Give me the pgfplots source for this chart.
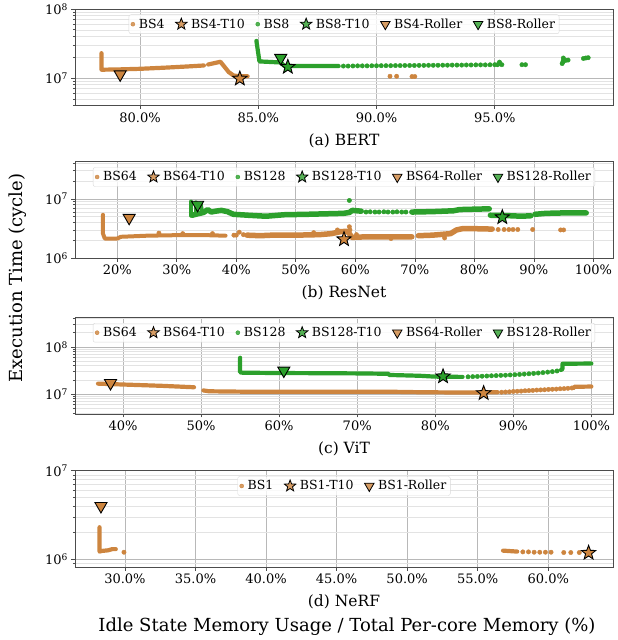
\documentclass[border=0pt]{standalone}
\usepackage{fontspec}
\setmainfont{DejaVu Serif}
\usepackage{pgfplots}
\pgfplotsset{compat=1.18}
\definecolor{cor}{RGB}{205,133,63}
\definecolor{cgr}{RGB}{44,160,44}
\pgfdeclareplotmark{fstar}{%
  \pgfpathmoveto{\pgfpointpolar{90}{1\pgfplotmarksize}}%
  \pgfpathlineto{\pgfpointpolar{126}{0.42\pgfplotmarksize}}%
  \pgfpathlineto{\pgfpointpolar{162}{1\pgfplotmarksize}}%
  \pgfpathlineto{\pgfpointpolar{198}{0.42\pgfplotmarksize}}%
  \pgfpathlineto{\pgfpointpolar{234}{1\pgfplotmarksize}}%
  \pgfpathlineto{\pgfpointpolar{270}{0.42\pgfplotmarksize}}%
  \pgfpathlineto{\pgfpointpolar{306}{1\pgfplotmarksize}}%
  \pgfpathlineto{\pgfpointpolar{342}{0.42\pgfplotmarksize}}%
  \pgfpathlineto{\pgfpointpolar{18}{1\pgfplotmarksize}}%
  \pgfpathlineto{\pgfpointpolar{54}{0.42\pgfplotmarksize}}%
  \pgfpathclose\pgfusepathqfillstroke}
\pgfplotsset{
  mypanel/.style={
    width=538pt, height=96.5pt, scale only axis,
    axis line style={black!70, line width=0.7pt},
    xmajorgrids, ymajorgrids, yminorgrids,
    major grid style={black!28, line width=0.6pt},
    minor grid style={black!11, line width=0.5pt},
    tick align=outside, tick pos=left,
    major tick length=3.5pt, minor tick length=2pt,
    tick style={black!70, line width=0.6pt},
    ticklabel style={font=\fontsize{13}{15}\selectfont},
    xlabel style={font=\fontsize{15.5}{18}\selectfont, yshift=-4pt},
    legend cell align=left,
    legend style={at={(0.5,0.943)}, anchor=north, draw=black!15, rounded corners=2pt,
      fill=white, fill opacity=0.8, text opacity=1, inner sep=2pt,
      font=\fontsize{12.5}{14}\selectfont,
      /tikz/every odd column/.append style={column sep=2pt},
      /tikz/every even column/.append style={column sep=9pt}},
  },
  mydot/.style={only marks, mark=*, mark size=2.2pt, forget plot},
  myband/.style={no marks, line width=#1, line cap=round, line join=round, forget plot},
  myband/.default=4.2pt,
  mystar/.style={only marks, mark=fstar, mark size=7.5pt, mark options={fill=#1, draw=black, line width=0.9pt}, forget plot},
  mytri/.style={only marks, mark=triangle*, mark size=7pt, mark options={rotate=180, fill=#1, draw=black, line width=0.9pt}, forget plot},
  lgdot/.style={only marks, mark=*, mark size=2pt, #1},
  lgstar/.style={only marks, mark=fstar, mark size=6pt, mark options={fill=#1, draw=black, line width=0.8pt}},
  lgtri/.style={only marks, mark=triangle*, mark size=5.5pt, mark options={rotate=180, fill=#1, draw=black, line width=0.8pt}},
}
\begin{document}
\begin{tikzpicture}
% ---------------- (a) BERT ----------------
\begin{axis}[mypanel, ymode=log, at={(0pt,-105.5pt)}, anchor=south west,
  xmin=77.25, xmax=100, ymin=4e6, ymax=1e8,
  xtick={80,85,90,95}, xticklabels={80.0\%,85.0\%,90.0\%,95.0\%},
  ytick={1e7,1e8}, yticklabels={10\textsuperscript{7},10\textsuperscript{8}},
  minor ytick={4e6,5e6,6e6,7e6,8e6,9e6,2e7,3e7,4e7,5e7,6e7,7e7,8e7,9e7},
  xlabel={(a) BERT}, legend columns=6]
\addlegendimage{lgdot=cor}\addlegendentry{BS4}
\addlegendimage{lgstar=cor}\addlegendentry{BS4-T10}
\addlegendimage{lgdot=cgr}\addlegendentry{BS8}
\addlegendimage{lgstar=cgr}\addlegendentry{BS8-T10}
\addlegendimage{lgtri=cor}\addlegendentry{BS4-Roller}
\addlegendimage{lgtri=cgr}\addlegendentry{BS8-Roller}
\addplot[myband, cor] coordinates {(78.37,2.29e7) (78.37,1.32e7) (79,1.33e7) (80,1.36e7) (81,1.41e7) (82,1.47e7) (82.7,1.52e7)};
\addplot[myband, cor] coordinates {(82.88,1.57e7) (83.4,1.72e7) (83.75,1.22e7) (83.95,1.09e7) (84.2,1.06e7) (84.55,1.06e7)};
\addplot[mydot, cor] coordinates {(90.57,1.06e7) (90.85,1.06e7) (91.5,1.05e7) (91.62,1.05e7)};
\addplot[myband, cgr] coordinates {(84.92,3.45e7) (85.05,1.74e7) (85.95,1.68e7) (86.1,1.5e7) (88.4,1.49e7)};
\addplot[mydot, cgr] coordinates {(88.6,1.49e7) (88.8,1.49e7) (89.0,1.495e7) (89.2,1.5e7) (89.4,1.5e7) (89.6,1.5e7) (89.8,1.505e7) (90.0,1.505e7) (90.2,1.51e7) (90.4,1.51e7) (90.6,1.51e7) (90.8,1.515e7) (91.0,1.515e7) (91.2,1.52e7) (91.4,1.52e7) (91.6,1.52e7) (91.8,1.525e7) (92.0,1.525e7) (92.2,1.53e7) (92.4,1.53e7) (92.6,1.53e7) (92.8,1.535e7) (93.0,1.535e7) (93.2,1.54e7) (93.4,1.54e7) (93.6,1.54e7) (93.8,1.545e7) (94.0,1.545e7) (94.2,1.55e7) (94.4,1.55e7) (94.6,1.55e7) (94.8,1.555e7) (95.0,1.56e7) (95.12,1.56e7) (95.2,1.62e7) (95.2,1.7e7) (95.3,1.56e7) (96.15,1.56e7) (96.3,1.56e7) (97.85,1.62e7) (97.88,1.7e7) (97.9,1.8e7) (97.9,1.95e7) (98.0,1.8e7) (98.1,1.82e7) (98.75,1.92e7) (98.85,1.95e7) (98.95,1.97e7)};
\addplot[mystar=cor] coordinates {(84.22,0.98e7)};
\addplot[mystar=cgr] coordinates {(86.25,1.45e7)};
\addplot[mytri=cor] coordinates {(79.16,1.13e7)};
\addplot[mytri=cgr] coordinates {(85.95,1.96e7)};
\end{axis}
% ---------------- (b) ResNet ----------------
\begin{axis}[mypanel, ymode=log, at={(0pt,-258.3pt)}, anchor=south west,
  xmin=12.9, xmax=103.3, ymin=1e6, ymax=4.2e7,
  xtick={20,30,40,50,60,70,80,90,100}, xticklabels={20\%,30\%,40\%,50\%,60\%,70\%,80\%,90\%,100\%},
  ytick={1e6,1e7}, yticklabels={10\textsuperscript{6},10\textsuperscript{7}},
  minor ytick={2e6,3e6,4e6,5e6,6e6,7e6,8e6,9e6,2e7,3e7,4e7},
  xlabel={(b) ResNet}, legend columns=6]
\addlegendimage{lgdot=cor}\addlegendentry{BS64}
\addlegendimage{lgstar=cor}\addlegendentry{BS64-T10}
\addlegendimage{lgdot=cgr}\addlegendentry{BS128}
\addlegendimage{lgstar=cgr}\addlegendentry{BS128-T10}
\addlegendimage{lgtri=cor}\addlegendentry{BS64-Roller}
\addlegendimage{lgtri=cgr}\addlegendentry{BS128-Roller}
\addplot[myband=4pt, cor] coordinates {(17.6,5.4e6) (17.6,2.6e6) (17.9,2.15e6) (20.0,2.15e6) (20.6,2.3e6) (25,2.4e6) (30,2.45e6) (35,2.45e6) (38.2,2.4e6)};
\addplot[myband=5.5pt, cor] coordinates {(41.8,2.45e6) (44,2.4e6) (46,2.45e6) (50,2.45e6) (54,2.5e6) (56,2.6e6) (57.5,2.8e6) (58.6,2.85e6) (59.0,2.6e6) (59.4,2.25e6) (62,2.3e6) (66,2.3e6) (69.5,2.3e6)};
\addplot[myband=5.5pt, cor] coordinates {(70.6,2.4e6) (73,2.45e6) (76,2.6e6) (77,3.0e6) (78,3.15e6) (80,3.15e6) (83,3.1e6)};
\addplot[mydot, cor] coordinates {(39.6,2.45e6) (40.0,2.45e6) (40.5,2.75e6) (41.2,2.5e6) (27,2.65e6) (31,2.6e6) (36,2.6e6) (53,2.7e6) (57,3.0e6) (59,3.4e6) (59.1,3.0e6) (60.2,2.5e6) (66,2.15e6) (75,2.2e6) (84,3.05e6) (85,3.05e6) (85.8,3.05e6) (86.5,3.05e6) (87.3,3.05e6) (89.8,3.05e6) (94.5,3.0e6) (95,3.0e6)};
\addplot[myband=4pt, cgr] coordinates {(32.4,9e6) (32.4,5.2e6)};
\addplot[myband=4pt, cgr] coordinates {(33.2,8.7e6) (33.2,6e6)};
\addplot[myband=4pt, cgr] coordinates {(34.0,8.4e6) (34.2,6.4e6)};
\addplot[myband=5.5pt, cgr] coordinates {(32.6,5.3e6) (33.5,5.6e6) (34.5,5.9e6) (35.2,6.6e6) (35.8,6.0e6) (36.5,6.2e6) (37.5,6.4e6) (38.5,6.1e6) (39.5,5.5e6) (42,5.3e6) (45,5.1e6) (48,5.4e6) (52,5.5e6) (55,5.6e6) (58,5.7e6) (59,5.9e6) (59.5,6.4e6) (61,6.2e6)};
\addplot[mydot, cgr] coordinates {(59,9.4e6) (61.8,6.0e6) (62.5,6.05e6) (63.3,6.0e6) (64.0,6.0e6) (64.8,6.05e6) (65.5,6.0e6) (66.3,6.0e6) (67.0,6.05e6) (67.8,6.0e6) (68.5,6.0e6)};
\addplot[myband=5.5pt, cgr] coordinates {(69.5,6.0e6) (73,6.1e6) (76.5,6.3e6) (77.5,6.6e6) (82.5,6.8e6)};
\addplot[myband=5.5pt, cgr] coordinates {(82.7,5.3e6) (86,5.2e6) (88,5.1e6) (89.5,5.2e6)};
\addplot[myband=5.5pt, cgr] coordinates {(90.2,5.5e6) (92,5.7e6) (95,5.8e6) (98.8,5.8e6)};
\addplot[mystar=cor] coordinates {(58.1,2.09e6)};
\addplot[mystar=cgr] coordinates {(84.7,4.9e6)};
\addplot[mytri=cor] coordinates {(22.0,4.8e6)};
\addplot[mytri=cgr] coordinates {(33.5,7.95e6)};
\end{axis}
% ---------------- (c) ViT ----------------
\begin{axis}[mypanel, ymode=log, at={(0pt,-414pt)}, anchor=south west,
  xmin=33.85, xmax=102.77, ymin=3.8e6, ymax=4.2e8,
  xtick={40,50,60,70,80,90,100}, xticklabels={40\%,50\%,60\%,70\%,80\%,90\%,100\%},
  ytick={1e7,1e8}, yticklabels={10\textsuperscript{7},10\textsuperscript{8}},
  minor ytick={4e6,5e6,6e6,7e6,8e6,9e6,2e7,3e7,4e7,5e7,6e7,7e7,8e7,9e7,2e8,3e8,4e8},
  xlabel={(c) ViT}, legend columns=6]
\addlegendimage{lgdot=cor}\addlegendentry{BS64}
\addlegendimage{lgstar=cor}\addlegendentry{BS64-T10}
\addlegendimage{lgdot=cgr}\addlegendentry{BS128}
\addlegendimage{lgstar=cgr}\addlegendentry{BS128-T10}
\addlegendimage{lgtri=cor}\addlegendentry{BS64-Roller}
\addlegendimage{lgtri=cgr}\addlegendentry{BS128-Roller}
\addplot[myband, cor] coordinates {(36.8,1.67e7) (40,1.6e7) (45,1.5e7) (49.1,1.4e7)};
\addplot[myband, cor] coordinates {(50.3,1.2e7) (51,1.15e7) (55,1.13e7) (65,1.12e7) (75,1.12e7) (78,1.1e7) (84,1.08e7) (88,1.1e7)};
\addplot[mydot, cor] coordinates {(88.5,1.1e7) (89,1.11e7) (89.5,1.12e7) (90,1.14e7) (90.5,1.15e7) (91,1.16e7) (91.5,1.18e7) (92,1.19e7) (92.5,1.2e7) (93,1.22e7) (93.5,1.23e7) (94,1.24e7) (94.5,1.26e7) (95,1.27e7) (95.5,1.28e7) (96,1.3e7) (96.5,1.31e7) (97,1.33e7) (97.5,1.35e7)};
\addplot[myband, cor] coordinates {(97.75,1.36e7) (97.8,1.43e7) (100,1.45e7)};
\addplot[myband, cgr] coordinates {(55,5.9e7) (55,2.9e7) (55.3,2.85e7) (60,2.8e7) (65,2.78e7) (70,2.75e7) (74,2.7e7) (74.1,2.55e7) (78,2.45e7) (80,2.35e7) (83.5,2.32e7)};
\addplot[mydot, cgr] coordinates {(84.2,2.33e7) (84.8,2.35e7) (85.4,2.37e7) (86.0,2.4e7) (86.6,2.42e7) (87.2,2.45e7) (87.8,2.47e7) (88.4,2.5e7) (89.0,2.52e7) (89.6,2.55e7) (90.2,2.58e7) (90.8,2.62e7) (91.4,2.66e7) (92.0,2.7e7) (92.6,2.75e7) (93.2,2.8e7) (93.8,2.86e7) (94.4,2.93e7) (95.0,3.0e7) (95.6,3.1e7)};
\addplot[myband, cgr] coordinates {(96.1,3.25e7) (96.3,3.4e7) (96.3,4.4e7) (100,4.45e7)};
\addplot[mystar=cor] coordinates {(86.2,1.05e7)};
\addplot[mystar=cgr] coordinates {(81.0,2.38e7)};
\addplot[mytri=cor] coordinates {(38.4,1.72e7)};
\addplot[mytri=cgr] coordinates {(60.6,3.16e7)};
\end{axis}
% ---------------- (d) NeRF ----------------
\begin{axis}[mypanel, ymode=log, at={(0pt,-567.3pt)}, anchor=south west,
  xmin=26.46, xmax=64.59, ymin=8.1e5, ymax=1e7,
  xtick={30,35,40,45,50,55,60}, xticklabels={30.0\%,35.0\%,40.0\%,45.0\%,50.0\%,55.0\%,60.0\%},
  ytick={1e6,1e7}, yticklabels={10\textsuperscript{6},10\textsuperscript{7}},
  minor ytick={9e5,2e6,3e6,4e6,5e6,6e6,7e6,8e6,9e6},
  xlabel={(d) NeRF}, legend columns=3]
\addlegendimage{lgdot=cor}\addlegendentry{BS1}
\addlegendimage{lgstar=cor}\addlegendentry{BS1-T10}
\addlegendimage{lgtri=cor}\addlegendentry{BS1-Roller}
\addplot[myband, cor] coordinates {(28.2,2.3e6) (28.2,1.22e6) (28.35,1.24e6) (28.8,1.26e6) (29.1,1.3e6) (29.35,1.3e6)};
\addplot[mydot, cor] coordinates {(29.93,1.2e6)};
\addplot[myband, cor] coordinates {(56.8,1.25e6) (57.8,1.22e6)};
\addplot[mydot, cor] coordinates {(58.2,1.21e6) (58.6,1.21e6) (59.0,1.2e6) (59.4,1.2e6) (59.8,1.2e6) (60.2,1.2e6) (61.1,1.19e6) (61.6,1.19e6) (62.2,1.19e6)};
\addplot[mystar=cor] coordinates {(62.86,1.18e6)};
\addplot[mytri=cor] coordinates {(28.3,4.0e6)};
\end{axis}
\node[rotate=90, font=\fontsize{18}{21}\selectfont] at (-57pt,-278pt) {Execution Time (cycle)};
\node[font=\fontsize{18}{21}\selectfont] at (272pt,-627pt) {Idle State Memory Usage / Total Per-core Memory (\%)};
\pgfresetboundingbox
\useasboundingbox (-75pt,0pt) rectangle (543pt,-640pt);
\end{tikzpicture}
\end{document}
